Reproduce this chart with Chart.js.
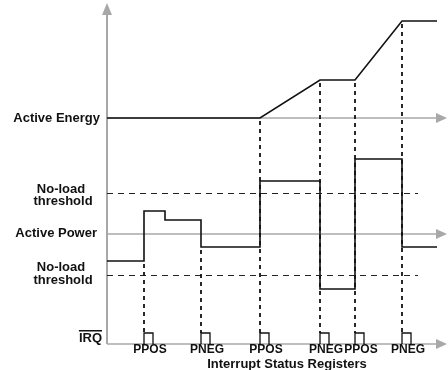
<!DOCTYPE html>
<html>
<head>
<meta charset="utf-8">
<script src="https://cdn.jsdelivr.net/npm/chart.js@4/dist/chart.umd.min.js"></script>
<style>
  html, body { margin: 0; padding: 0; background: #fff; }
</style>
</head>
<body>
<canvas id="timing" width="448" height="370"></canvas>
<script>
// interrupt events on the time axis
const eventNames = ['PPOS', 'PNEG', 'PPOS', 'PNEG', 'PPOS', 'PNEG'];
const eventTimes = [37, 94, 153, 213, 248, 295];
// which trace each dashed marker drops from
const eventSource = ['power', 'power', 'energy', 'energy', 'energy', 'energy'];

// accumulated active energy
const energyTimes = [0, 153, 213, 248, 295, 330];
const energyValues = [0, 0, 38, 38, 97, 97];

// active power (value holds from its time until the next one)
const powerTimes = [0, 37, 58, 94, 153, 213, 248, 295, 330];
const powerValues = [-27, 23, 14, -13, 53, -55, 75, -13, -13];

const noLoadThreshold = 41;
const thresholdEnd = 311;

const channelNames = ['Active Energy', 'Active Power', 'IRQ'];
const thresholdName = ['No-load', 'threshold'];
const xTitle = 'Interrupt Status Registers';

const PULSE_W = 9, PULSE_H = 11;
const AXIS_GREY = '#a8a8a8';
const INK = '#111';
const FONT = '"Liberation Sans", Arial, sans-serif';

const energyData = energyTimes.map((t, i) => ({ x: t, y: energyValues[i] }));
const powerData = powerTimes.map((t, i) => ({ x: t, y: powerValues[i] }));
const irqData = [];
eventTimes.forEach(t => {
    irqData.push({ x: t, y: 0 }, { x: t, y: PULSE_H }, { x: t + PULSE_W, y: PULSE_H }, { x: t + PULSE_W, y: 0 }, { x: t + PULSE_W + 1, y: null });
});

function arrowRight(ctx, x0, x1, y) {
    ctx.beginPath();
    ctx.moveTo(x0, y);
    ctx.lineTo(x1 - 9, y);
    ctx.stroke();
    ctx.beginPath();
    ctx.moveTo(x1, y);
    ctx.lineTo(x1 - 11, y - 5);
    ctx.lineTo(x1 - 11, y + 5);
    ctx.closePath();
    ctx.fill();
}

const diagram = {
    id: 'diagram',
    beforeDatasetsDraw(chart) {
        const ctx = chart.ctx;
        const x = chart.scales.x, yE = chart.scales.yE, yP = chart.scales.yP, yI = chart.scales.yI;
        const x0 = x.getPixelForValue(0);
        const xEnd = chart.chartArea.right - 1;
        ctx.save();
        ctx.strokeStyle = AXIS_GREY;
        ctx.fillStyle = AXIS_GREY;
        ctx.lineWidth = 2;
        // vertical axis
        const yb = yI.getPixelForValue(0);
        ctx.beginPath();
        ctx.moveTo(x0, yb);
        ctx.lineTo(x0, 14);
        ctx.stroke();
        ctx.beginPath();
        ctx.moveTo(x0, 3);
        ctx.lineTo(x0 - 5, 15);
        ctx.lineTo(x0 + 5, 15);
        ctx.closePath();
        ctx.fill();
        // horizontal channel axes
        ctx.lineWidth = 1.5;
        arrowRight(ctx, x0, xEnd, yE.getPixelForValue(0));
        arrowRight(ctx, x0, xEnd, yP.getPixelForValue(0));
        arrowRight(ctx, x0, xEnd, yb);

        // no-load thresholds
        ctx.strokeStyle = '#222';
        ctx.lineWidth = 1;
        ctx.setLineDash([6, 5]);
        [noLoadThreshold, -noLoadThreshold].forEach(v => {
            const py = Math.round(yP.getPixelForValue(v)) + 0.5;
            ctx.beginPath();
            ctx.moveTo(x0, py);
            ctx.lineTo(x.getPixelForValue(thresholdEnd), py);
            ctx.stroke();
        });

        // event markers
        ctx.strokeStyle = INK;
        ctx.lineWidth = 1.8;
        ctx.setLineDash([4, 4]);
        eventTimes.forEach((t, i) => {
            let top;
            if (eventSource[i] === 'energy') {
                top = yE.getPixelForValue(energyValues[energyTimes.indexOf(t)]);
            } else {
                const k = powerTimes.indexOf(t);
                top = yP.getPixelForValue(Math.min(powerValues[k - 1], powerValues[k]));
            }
            const px = x.getPixelForValue(t);
            ctx.beginPath();
            ctx.moveTo(px, top + 3);
            ctx.lineTo(px, yI.getPixelForValue(PULSE_H));
            ctx.stroke();
        });
        ctx.restore();
    },
    afterDraw(chart) {
        const ctx = chart.ctx;
        const x = chart.scales.x, yE = chart.scales.yE, yP = chart.scales.yP, yI = chart.scales.yI;
        const x0 = x.getPixelForValue(0);
        ctx.save();
        ctx.fillStyle = INK;
        ctx.font = 'bold 13px ' + FONT;
        ctx.textBaseline = 'middle';
        ctx.textAlign = 'right';
        ctx.fillText(channelNames[0], x0 - 7, yE.getPixelForValue(0));
        ctx.fillText(channelNames[1], x0 - 10, yP.getPixelForValue(0) - 1);
        const irqY = yI.getPixelForValue(0) - 6;
        ctx.fillText(channelNames[2], x0 - 5, irqY);
        const w = ctx.measureText(channelNames[2]).width;
        ctx.fillRect(x0 - 5 - w, irqY - 8, w, 1.5);

        ctx.textAlign = 'center';
        // upper label sits on its line, lower one sits above it
        let py = yP.getPixelForValue(noLoadThreshold);
        ctx.fillText(thresholdName[0], 61, py - 4);
        ctx.fillText(thresholdName[1], 63, py + 8);
        py = yP.getPixelForValue(-noLoadThreshold);
        ctx.fillText(thresholdName[0], 61, py - 8);
        ctx.fillText(thresholdName[1], 63, py + 5);

        ctx.font = 'bold 12px ' + FONT;
        eventNames.forEach((n, i) => {
            ctx.fillText(n, x.getPixelForValue(eventTimes[i]) + 6, yI.getPixelForValue(0) + 6);
        });
        ctx.font = 'bold 13px ' + FONT;
        ctx.fillText(xTitle, 287, yI.getPixelForValue(0) + 20);
        ctx.restore();
    }
};

const line = (data, axis, extra) => Object.assign({
    data: data,
    yAxisID: axis,
    borderColor: INK,
    borderWidth: 1.6,
    pointRadius: 0,
    fill: false,
    tension: 0,
    spanGaps: false
}, extra);

new Chart(document.getElementById('timing'), {
    type: 'line',
    data: {
        datasets: [
            line(energyData, 'yE'),
            line(powerData, 'yP', { stepped: true }),
            line(irqData, 'yI', { borderWidth: 1.3 })
        ]
    },
    options: {
        responsive: false,
        animation: false,
        devicePixelRatio: 1,
        layout: { padding: 0 },
        plugins: { legend: { display: false }, tooltip: { enabled: false } },
        scales: {
            x: { type: 'linear', min: -107, max: 341, display: false },
            // one channel per axis, each spanning the full height with its own zero
            yE: { type: 'linear', min: -252, max: 118, display: false },
            yP: { type: 'linear', min: -136, max: 234, display: false },
            yI: { type: 'linear', min: -26, max: 344, display: false }
        }
    },
    plugins: [diagram]
});
</script>
</body>
</html>
